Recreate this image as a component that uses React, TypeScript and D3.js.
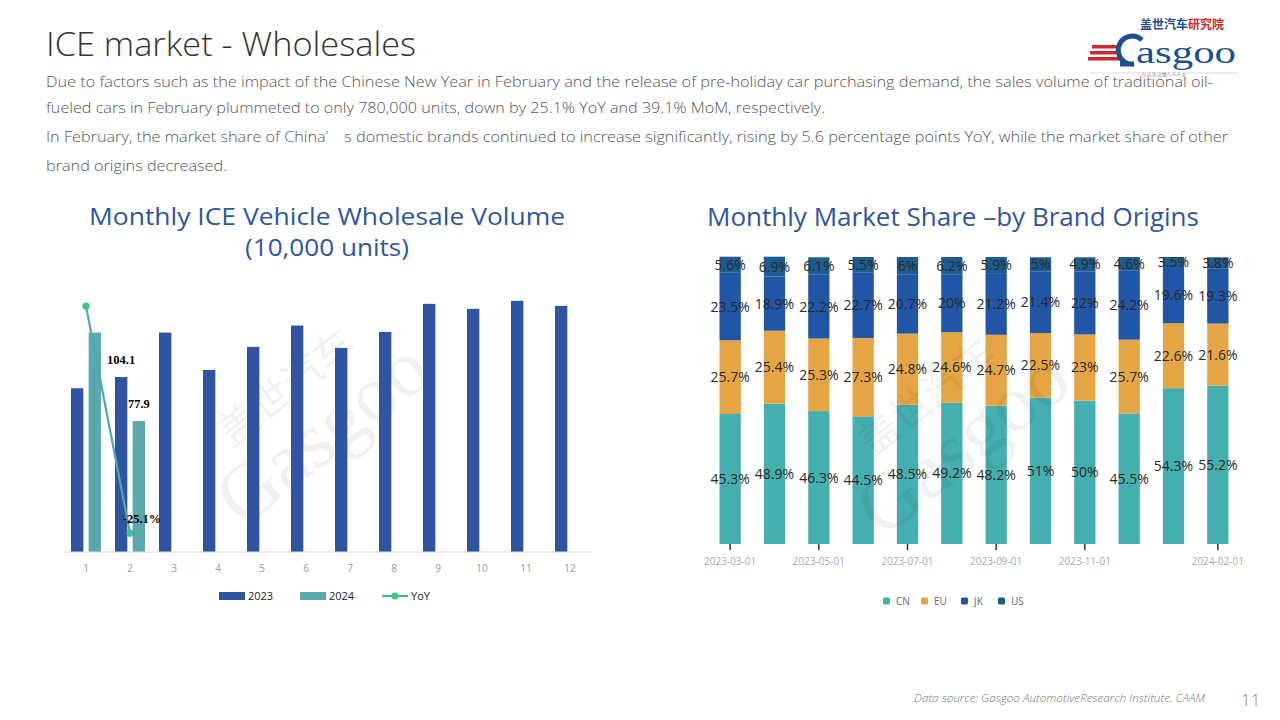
import React from "react";
import * as d3 from "d3";

// ---------- Left chart data ----------
const months = ["1", "2", "3", "4", "5", "6", "7", "8", "9", "10", "11", "12"];
const sales2023 = [97.4, 104.1, 130.5, 108.3, 122.0, 134.7, 121.4, 130.9, 147.6, 144.6, 149.4, 146.4];
const sales2024 = [130.5, 77.9];
const yoy = [34.0, -25.1];
const yoyLabels = ["", "-25.1%"];
const barLabels2023 = ["", "104.1"];
const barLabels2024 = ["", "77.9"];

// ---------- Right chart data ----------
const shareDates = [
  "2023-03-01", "2023-04-01", "2023-05-01", "2023-06-01", "2023-07-01", "2023-08-01",
  "2023-09-01", "2023-10-01", "2023-11-01", "2023-12-01", "2024-01-01", "2024-02-01",
];
const shareTickDates = ["2023-03-01", "2023-05-01", "2023-07-01", "2023-09-01", "2023-11-01", "2024-02-01"];
const shareCN = [45.3, 48.9, 46.3, 44.5, 48.5, 49.2, 48.2, 51, 50, 45.5, 54.3, 55.2];
const shareEU = [25.7, 25.4, 25.3, 27.3, 24.8, 24.6, 24.7, 22.5, 23, 25.7, 22.6, 21.6];
const shareJK = [23.5, 18.9, 22.2, 22.7, 20.7, 20, 21.2, 21.4, 22, 24.2, 19.6, 19.3];
const shareUS = [5.6, 6.9, 6.1, 5.5, 6, 6.2, 5.9, 5, 4.9, 4.6, 3.5, 3.8];
const shareKeys = ["CN", "EU", "JK", "US"];

const paragraph = [
  "Due to factors such as the impact of the Chinese New Year in February and the release of pre-holiday car purchasing demand, the sales volume of traditional oil-",
  "fueled cars in February plummeted to only 780,000 units, down by 25.1% YoY and 39.1% MoM, respectively.",
  "In February, the market share of China\u2019\u3000s domestic brands continued to increase significantly, rising by 5.6 percentage points YoY, while the market share of other",
  "brand origins decreased.",
];
const paragraphWidths = [1167, 779, 1182, 181];

const C2023 = "#2F55A0";
const C2024 = "#5AA9AC";
const CYOY_LINE = "#4FA9AA";
const CYOY_DOT = "#3CC48A";
const shareColors: Record<string, string> = { CN: "#45AFB0", EU: "#E5A544", JK: "#2156A6", US: "#1D5C90" };
const TITLE_BLUE = "#2E56A0";

function Watermark({ x, y }: { x: number; y: number }) {
  return (
    <g transform={`translate(${x},${y}) rotate(-38)`} opacity={0.05} fill="#000">
      <text x={0} y={-40} fontSize={40} fontFamily="'Noto Sans CJK SC'" textAnchor="middle">盖世汽车</text>
      <text x={0} y={30} fontSize={80} fontFamily="'Liberation Serif'" textAnchor="middle">Gasgoo</text>
    </g>
  );
}

export default function App() {
  // Left chart scales
  const x0 = d3.scaleBand<string>().domain(months).range([64, 592]);
  const x1 = d3.scaleBand<string>().domain(["2023", "2024"]).range([7, 37]).paddingInner(0.3);
  const yL = d3.scaleLinear().domain([0, 160]).range([552, 283]);
  const yR = d3.scaleLinear().domain([-30, 40]).range([552, 283]);
  const yoyLine = d3
    .line<number>()
    .x((_, i) => (x0(months[i]) as number) + x0.bandwidth() / 2)
    .y((d) => yR(d));

  // Right chart scales
  const xs = d3.scaleBand<string>().domain(shareDates).range([708, 1240]).paddingInner(0.52).paddingOuter(0.26);
  const ys = d3.scaleLinear().domain([0, 100]).range([544, 257]);
  const rows = shareDates.map((d, i) => ({ date: d, CN: shareCN[i], EU: shareEU[i], JK: shareJK[i], US: shareUS[i] }));
  const stacked = d3.stack<any>().keys(shareKeys)(rows);

  const fmt = (v: number) => `${v}%`;

  return (
    <svg width={1280} height={720} viewBox="0 0 1280 720" style={{ display: "block", margin: -8 }}>
      <rect x={0} y={0} width={1280} height={720} fill="#fff" />

      {/* Header */}
      <text x={46} y={56} fontSize={33} fontFamily="'Open Sans'" fontWeight={300} fill="#333" textLength={370} lengthAdjust="spacingAndGlyphs">
        ICE market - Wholesales
      </text>
      {paragraph.map((line, i) => (
        <text
          key={i}
          x={46}
          y={[87, 113, 142, 171][i]}
          fontSize={15}
          fontFamily="'Open Sans'"
          fontWeight={300}
          fill="#555"
          textLength={paragraphWidths[i]}
          lengthAdjust="spacingAndGlyphs"
        >
          {line}
        </text>
      ))}

      {/* Logo */}
      <g>
        <text x={1140} y={29} fontSize={12} fontWeight={700} fontFamily="'Noto Sans CJK SC'">
          <tspan fill="#1D4F91">盖世汽车</tspan>
          <tspan fill="#D0262D">研究院</tspan>
        </text>
        <rect x={1092} y={45} width={28} height={3.5} fill="#D0262D" />
        <rect x={1090} y={51} width={30} height={3.5} fill="#D0262D" />
        <rect x={1088} y={57} width={32} height={3.5} fill="#D0262D" />
        <path d="M1142,40 A14,14 0 1,0 1134,64 L1120,64" fill="none" stroke="#1D4F91" strokeWidth={5} />
        <text x={1136} y={63} fontSize={32} fontFamily="'Liberation Serif'" fill="#1D4F91" textLength={100} lengthAdjust="spacingAndGlyphs">
          asgoo
        </text>
        <line x1={1090} y1={73} x2={1237} y2={73} stroke="#ccc" strokeWidth={0.7} />
        <rect x={1142} y={70} width={44} height={7} fill="#fff" />
        <text x={1164} y={76} fontSize={5} fill="#999" textAnchor="middle" fontFamily="'Noto Sans CJK SC'">在这里读懂汽车产业</text>
      </g>

      {/* Left chart */}
      <text x={327} y={225} fontSize={24} fontFamily="'Open Sans'" fill={TITLE_BLUE} textAnchor="middle" textLength={476} lengthAdjust="spacingAndGlyphs">
        Monthly ICE Vehicle Wholesale Volume
      </text>
      <text x={327} y={256} fontSize={24} fontFamily="'Open Sans'" fill={TITLE_BLUE} textAnchor="middle" textLength={164} lengthAdjust="spacingAndGlyphs">
        (10,000 units)
      </text>
      <Watermark x={320} y={430} />
      {sales2023.map((v, i) => (
        <rect
          key={"a" + i}
          x={(x0(months[i]) as number) + (x1("2023") as number)}
          y={yL(v)}
          width={x1.bandwidth()}
          height={yL(0) - yL(v)}
          fill={C2023}
        />
      ))}
      {sales2024.map((v, i) => (
        <rect
          key={"b" + i}
          x={(x0(months[i]) as number) + (x1("2024") as number)}
          y={yL(v)}
          width={x1.bandwidth()}
          height={yL(0) - yL(v)}
          fill={C2024}
        />
      ))}
      <line x1={63} x2={593} y1={yL(0)} y2={yL(0)} stroke="#d9d9d9" strokeWidth={1} />
      {months.map((m) => (
        <text key={m} x={(x0(m) as number) + x0.bandwidth() / 2} y={572} fontSize={10} fill="#999" textAnchor="middle" fontFamily="'Open Sans'">
          {m}
        </text>
      ))}
      <path d={yoyLine(yoy) || ""} fill="none" stroke={CYOY_LINE} strokeWidth={2.2} />
      {yoy.map((v, i) => (
        <circle key={"d" + i} cx={(x0(months[i]) as number) + x0.bandwidth() / 2} cy={yR(v)} r={3.6} fill={CYOY_DOT} />
      ))}
      {barLabels2023.map((l, i) =>
        l ? (
          <text key={"l1" + i} x={(x0(months[i]) as number) + (x1("2023") as number) + x1.bandwidth() / 2} y={yL(sales2023[i]) - 13} fontSize={12.5} fontWeight={700} fontFamily="'Liberation Serif'" textAnchor="middle" fill="#000">
            {l}
          </text>
        ) : null
      )}
      {barLabels2024.map((l, i) =>
        l ? (
          <text key={"l2" + i} x={(x0(months[i]) as number) + (x1("2024") as number) + x1.bandwidth() / 2} y={yL(sales2024[i]) - 13} fontSize={12.5} fontWeight={700} fontFamily="'Liberation Serif'" textAnchor="middle" fill="#000">
            {l}
          </text>
        ) : null
      )}
      {yoyLabels.map((l, i) =>
        l ? (
          <text key={"l3" + i} x={(x0(months[i]) as number) + x0.bandwidth() / 2 + 12} y={yR(yoy[i]) - 10} fontSize={12.5} fontWeight={700} fontFamily="'Liberation Serif'" textAnchor="middle" fill="#000">
            {l}
          </text>
        ) : null
      )}
      {/* Left legend */}
      <rect x={219} y={592} width={26} height={8} fill={C2023} />
      <text x={248} y={600} fontSize={11} fill="#222" fontFamily="'Open Sans'">2023</text>
      <rect x={300} y={592} width={26} height={8} fill={C2024} />
      <text x={329} y={600} fontSize={11} fill="#222" fontFamily="'Open Sans'">2024</text>
      <line x1={382} x2={408} y1={596} y2={596} stroke={CYOY_LINE} strokeWidth={2.2} />
      <circle cx={395} cy={596} r={3.6} fill={CYOY_DOT} />
      <text x={411} y={600} fontSize={11} fill="#222" fontFamily="'Open Sans'">YoY</text>

      {/* Right chart */}
      <text x={953} y={226} fontSize={26} fontFamily="'Open Sans'" fill={TITLE_BLUE} textAnchor="middle" textLength={492} lengthAdjust="spacingAndGlyphs">
        Monthly Market Share –by Brand Origins
      </text>
      {stacked.map((series) => (
        <g key={series.key} fill={shareColors[series.key]}>
          {series.map((d, i) => (
            <rect key={i} x={xs(shareDates[i])} y={ys(d[1])} width={xs.bandwidth()} height={ys(d[0]) - ys(d[1])} />
          ))}
        </g>
      ))}
      <Watermark x={960} y={440} />
      {stacked.map((series) => (
        <g key={"t" + series.key}>
          {series.map((d, i) => (
            <text
              key={i}
              x={(xs(shareDates[i]) as number) + xs.bandwidth() / 2}
              y={(ys(d[0]) + ys(d[1])) / 2 + 5}
              fontSize={14}
              fill="#2a2a2a"
              textAnchor="middle"
              fontFamily="'Open Sans'"
            >
              {fmt(+(d[1] - d[0]).toFixed(1))}
            </text>
          ))}
        </g>
      ))}
      {shareTickDates.map((d) => {
        const cx = (xs(d) as number) + xs.bandwidth() / 2;
        return (
          <g key={d}>
            <line x1={cx} x2={cx} y1={544} y2={550} stroke="#333" strokeWidth={1.5} />
            <text x={cx} y={565} fontSize={10} fill="#aaa" textAnchor="middle" fontFamily="'Open Sans'">
              {d}
            </text>
          </g>
        );
      })}
      {shareKeys.map((k, i) => {
        const lx = [883, 921, 961, 998][i];
        return (
          <g key={k}>
            <rect x={lx} y={597.5} width={7} height={7} rx={1.5} fill={shareColors[k]} />
            <text x={lx + 13} y={605} fontSize={10} fill="#666" fontFamily="'Open Sans'">{k}</text>
          </g>
        );
      })}

      {/* Footer */}
      <text x={914} y={702} fontSize={11} fontStyle="italic" fill="#777" fontFamily="'Open Sans'" fontWeight={300} textLength={291} lengthAdjust="spacingAndGlyphs">
        Data source: Gasgoo AutomotiveResearch Institute, CAAM
      </text>
      <text x={1241} y={706} fontSize={17} fill="#888" fontFamily="'Open Sans'" fontWeight={300}>11</text>
    </svg>
  );
}
